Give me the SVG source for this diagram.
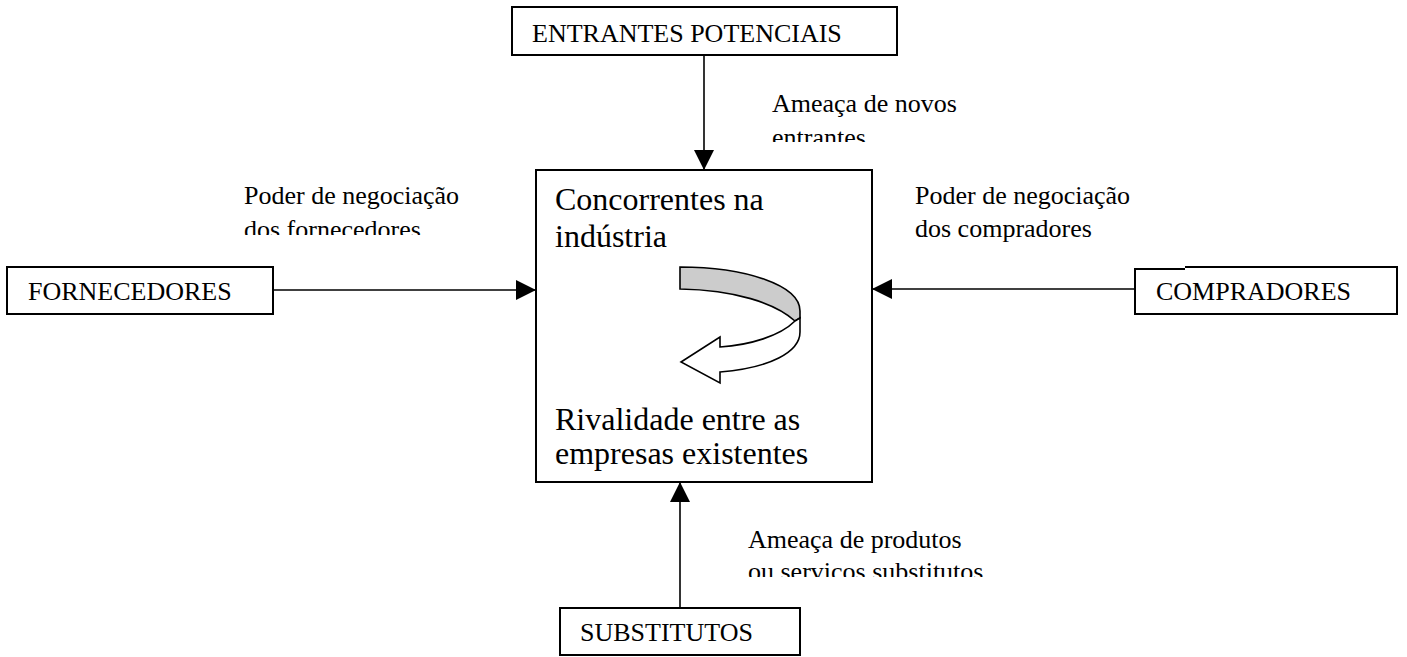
<svg xmlns="http://www.w3.org/2000/svg" width="1407" height="657" viewBox="0 0 1407 657">
  <style>
    .box { fill: #ffffff; stroke: #000000; stroke-width: 2; }
    .lbl { font-family: "Liberation Serif", "Times New Roman", serif; font-size: 26px; fill: #000000; }
    .big { font-family: "Liberation Serif", "Times New Roman", serif; font-size: 32px; fill: #000000; }
    .conn { stroke: #000000; stroke-width: 1.6; fill: none; marker-end: url(#arrow); }
    .rib { stroke: #000000; stroke-width: 1.6; stroke-linejoin: miter; }
  </style>
  <defs>
    <marker id="arrow" viewBox="0 0 20 20" markerWidth="20" markerHeight="20" refX="20" refY="10" orient="auto" markerUnits="userSpaceOnUse">
      <path d="M0,0 L20,10 L0,20 Z" fill="#000000"/>
    </marker>
    <clipPath id="clipTop"><rect x="760" y="80" width="260" height="62"/></clipPath>
    <clipPath id="clipLeft"><rect x="230" y="170" width="260" height="65"/></clipPath>
    <clipPath id="clipBottom"><rect x="730" y="520" width="320" height="57"/></clipPath>
  </defs>
  <rect width="1407" height="657" fill="#ffffff"/>

  <g id="connectors">
    <path class="conn" d="M704,55 L704,170"/>
    <path class="conn" d="M273,290 L536,290"/>
    <path class="conn" d="M1135,289 L872,289"/>
    <path class="conn" d="M680,608 L680,482"/>
  </g>

  <g id="entrantes">
    <rect class="box" x="512" y="7" width="385" height="48"/>
    <text class="lbl" x="532" y="42">ENTRANTES POTENCIAIS</text>
  </g>

  <g id="label-entrantes" clip-path="url(#clipTop)">
    <text class="lbl" x="772" y="112">Ameaça de novos</text>
    <text class="lbl" x="772" y="146">entrantes</text>
  </g>

  <g id="concorrentes">
    <rect class="box" x="536" y="170" width="336" height="312"/>
    <text class="big" x="555" y="210">Concorrentes na</text>
    <text class="big" x="555" y="247">indústria</text>
    <text class="big" x="555" y="430">Rivalidade entre as</text>
    <text class="big" x="555" y="464">empresas existentes</text>
    <g id="rivalry-arrow">
      <path class="rib" fill="#cccccc" d="M680,267 C745,267 800,285 800,311 L800,318 L795,321 C775,303 735,290 680,289 Z"/>
      <path class="rib" fill="#ffffff" d="M795,321 L800,318 L800,332 C800,352 770,368 720,372 L720,383 L681,362 L720,337 L720,347 C750,345 780,336 795,321 Z"/>
    </g>
  </g>

  <g id="fornecedores">
    <rect class="box" x="7" y="267" width="266" height="47"/>
    <text class="lbl" x="28" y="300">FORNECEDORES</text>
  </g>

  <g id="label-fornecedores" clip-path="url(#clipLeft)">
    <text class="lbl" x="244" y="204">Poder de negociação</text>
    <text class="lbl" x="244" y="238">dos fornecedores</text>
  </g>

  <g id="compradores">
    <rect x="1135" y="267" width="262" height="47" fill="#ffffff"/>
    <path d="M1185,267 H1397 V314 H1135 V269 H1185" fill="none" stroke="#000000" stroke-width="2"/>
    <text class="lbl" x="1156" y="300">COMPRADORES</text>
  </g>

  <g id="label-compradores">
    <text class="lbl" x="915" y="204">Poder de negociação</text>
    <text class="lbl" x="915" y="237">dos compradores</text>
  </g>

  <g id="substitutos">
    <rect class="box" x="560" y="608" width="240" height="47"/>
    <text class="lbl" x="580" y="641">SUBSTITUTOS</text>
  </g>

  <g id="label-substitutos" clip-path="url(#clipBottom)">
    <text class="lbl" x="748" y="548">Ameaça de produtos</text>
    <text class="lbl" x="748" y="580">ou servicos substitutos</text>
  </g>
</svg>
